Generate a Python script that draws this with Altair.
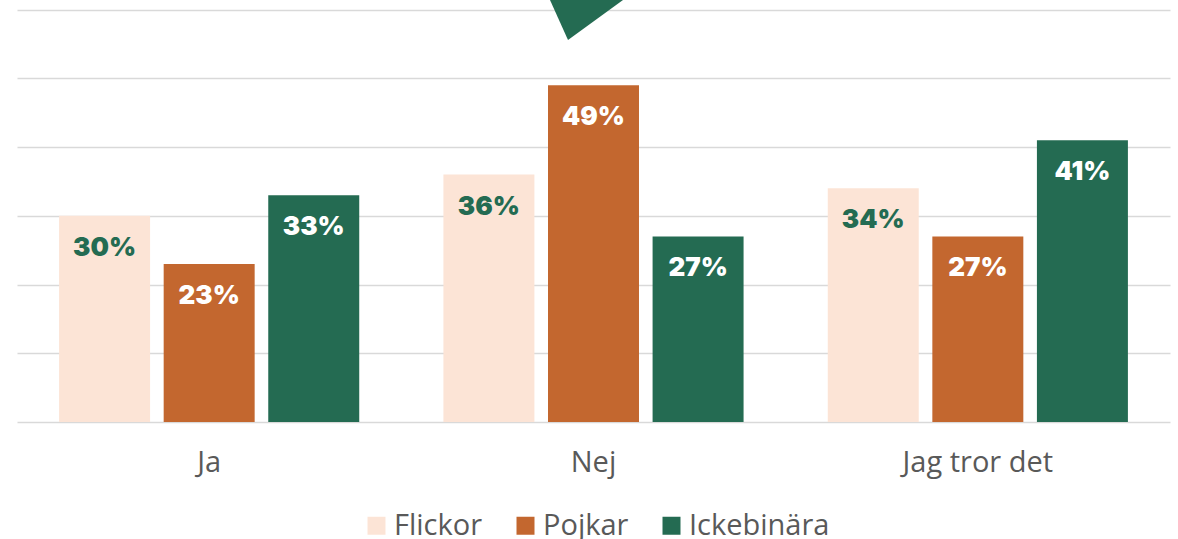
import altair as alt
import pandas as pd

categories = ["Ja", "Nej", "Jag tror det"]
series = ["Flickor", "Pojkar", "Ickebinära"]
flickor = [30, 36, 34]
pojkar = [23, 49, 27]
ickebinara = [33, 27, 41]
colors = ["#FCE4D6", "#C3672F", "#246B52"]
y_ticks = [0, 10, 20, 30, 40, 50, 60]

rows = []
for i, c in enumerate(categories):
    for s, vals in zip(series, [flickor, pojkar, ickebinara]):
        rows.append({"cat": c, "series": s, "value": vals[i], "label": f"{vals[i]}%"})
df = pd.DataFrame(rows)

x_enc = alt.X(
    "cat:N",
    sort=categories,
    scale=alt.Scale(paddingInner=0, paddingOuter=0),
    axis=alt.Axis(
        labelAngle=0, ticks=False, domain=False, grid=False, title=None,
        labelFontSize=29, labelFont="Open Sans", labelColor="#595959", labelPadding=26,
    ),
)
xoff = alt.XOffset("series:N", sort=series, scale=alt.Scale(paddingInner=0.13, paddingOuter=0.4025))
y_enc = alt.Y(
    "value:Q",
    scale=alt.Scale(domain=[0, 61.4], nice=False, zero=True),
    axis=alt.Axis(
        values=y_ticks, labels=False, ticks=False, domain=False, title=None,
        grid=True, gridColor="#D9D9D9", gridWidth=1.5,
    ),
)

bars = alt.Chart(df).mark_bar().encode(
    x=x_enc,
    xOffset=xoff,
    y=y_enc,
    color=alt.Color(
        "series:N",
        sort=series,
        scale=alt.Scale(domain=series, range=colors),
        legend=alt.Legend(
            title=None, orient="none", direction="horizontal",
            legendX=345, legendY=511,
            labelFontSize=29, labelFont="Open Sans", labelColor="#595959",
            symbolType="square", symbolSize=324, symbolStrokeWidth=0,
            labelOffset=3, columnPadding=28,
        ),
    ),
)

labels = alt.Chart(df).mark_text(
    font="Inter", fontWeight=900, fontSize=26, baseline="middle", dy=32
).encode(
    x=x_enc,
    xOffset=xoff,
    y=y_enc,
    text=alt.Text("label:N"),
    fill=alt.condition(alt.datum.series == "Flickor", alt.value("#246B52"), alt.value("#FFFFFF")),
)

tri = alt.Chart(pd.DataFrame({"d": [0]})).mark_point(
    shape="M -0.72 -0.4 L 0.74 -0.4 L -0.36 0.4 Z",
    size=10000, filled=True, color="#246B52", opacity=1, strokeWidth=0,
).encode(x=alt.value(569), y=alt.value(20))

chart = alt.layer(bars, labels, tri).properties(
    width=1153, height=422,
    padding={"left": 17, "top": 0, "right": 8, "bottom": 60},
    background="white",
).configure_view(stroke=None)

chart.save("out.html", embed_options={"renderer": "svg", "actions": False})
